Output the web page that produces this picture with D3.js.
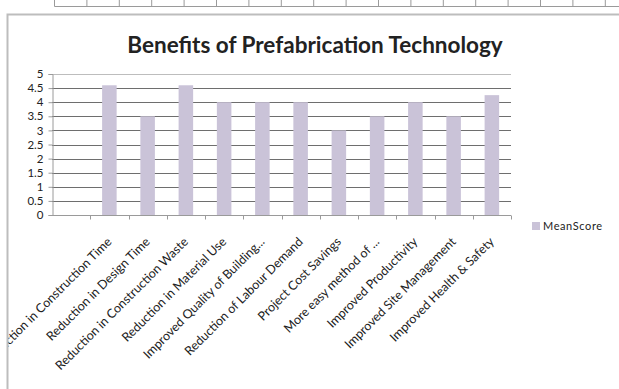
<!DOCTYPE html>
<html>
<head>
<meta charset="utf-8">
<script src="https://cdn.jsdelivr.net/npm/d3@7"></script>
<style>
  body { margin: 0; background: #fff; }
  svg { display: block; }
  text { font-family: Lato, "Open Sans", sans-serif; fill: #222; }
</style>
</head>
<body>
<svg></svg>
<script>
const categories = ['', 'Reduction in Construction Time', 'Reduction in Design Time',
  'Reduction in Construction Waste', 'Reduction in Material Use', 'Improved Quality of Building...',
  'Reduction of Labour Demand', 'Project Cost Savings', 'More easy method of ...',
  'Improved Productivity', 'Improved Site Management', 'Improved Health & Safety'];
const meanScore = [null, 4.6, 3.5, 4.6, 4.0, 4.0, 4.0, 3.0, 3.5, 4.0, 3.5, 4.25];
const yTicks = [0, 0.5, 1, 1.5, 2, 2.5, 3, 3.5, 4, 4.5, 5];
const seriesName = 'MeanScore';

const width = 619, height = 389;
const margin = { top: 74, left: 52, right: 108, bottom: 174 };

const svg = d3.select('svg')
  .attr('width', width)
  .attr('height', height);

// chart area clip (labels run off past the frame on the left)
svg.append('clipPath')
  .attr('id', 'chart-clip')
  .append('rect')
    .attr('x', 8.5).attr('y', 15)
    .attr('width', width).attr('height', height);

// spreadsheet cells peeking above the chart
const cellX = d3.range(0, 18).map(i => 54.5 + i * 32.4);
svg.append('line')
  .attr('x1', 54.5).attr('x2', width).attr('y1', 6.5).attr('y2', 6.5)
  .attr('stroke', '#9a9a9a');
svg.selectAll('.cell')
  .data(cellX)
  .enter().append('line')
    .attr('x1', d => d).attr('x2', d => d)
    .attr('y1', 0).attr('y2', 6.5)
    .attr('stroke', '#9a9a9a');

// chart frame
svg.append('path')
  .attr('d', 'M7.5,' + height + 'V14.5H' + width)
  .attr('fill', 'none')
  .attr('stroke', '#bdbdbd')
  .attr('stroke-width', 2);

const x = d3.scaleBand()
  .domain(categories.map((d, i) => i))
  .range([margin.left, width - margin.right])
  .paddingInner(0.62)
  .paddingOuter(0.31);

const y = d3.scaleLinear()
  .domain([0, 5])
  .range([height - margin.bottom, margin.top]);

// gridlines
svg.append('g')
  .selectAll('line')
  .data(yTicks.slice(1))
  .enter().append('line')
    .attr('x1', margin.left).attr('x2', width - margin.right)
    .attr('y1', d => Math.round(y(d)) + 0.5).attr('y2', d => Math.round(y(d)) + 0.5)
    .attr('stroke', d => d === 5 ? '#bdbdbd' : '#6e6e6e');

// bars
svg.append('g')
  .selectAll('rect')
  .data(meanScore.map((v, i) => ({ v, i })).filter(d => d.v != null))
  .enter().append('rect')
    .attr('x', d => x(d.i))
    .attr('width', x.bandwidth())
    .attr('y', d => y(d.v))
    .attr('height', d => y(0) - y(d.v))
    .attr('fill', '#cac3d8');

// y axis
const yAxis = svg.append('g')
  .attr('transform', 'translate(' + (margin.left + 0.5) + ',0)')
  .call(d3.axisLeft(y).tickValues(yTicks).tickSize(4).tickPadding(5).tickFormat(d3.format('')));
yAxis.select('.domain').attr('stroke', '#9a9a9a');
yAxis.selectAll('.tick line').attr('stroke', '#9a9a9a');
yAxis.selectAll('.tick text').style('font-size', '11.5px').attr('fill', '#222');

// x axis with ticks at category boundaries
const step = x.step();
const xBase = Math.round(y(0)) + 0.5;
svg.append('line')
  .attr('x1', margin.left).attr('x2', width - margin.right)
  .attr('y1', xBase).attr('y2', xBase)
  .attr('stroke', '#9a9a9a');
svg.append('g')
  .selectAll('line')
  .data(d3.range(1, categories.length + 1))
  .enter().append('line')
    .attr('x1', d => Math.round(margin.left + d * step) + 0.5)
    .attr('x2', d => Math.round(margin.left + d * step) + 0.5)
    .attr('y1', xBase).attr('y2', xBase + 4)
    .attr('stroke', '#9a9a9a');

svg.append('g')
  .attr('clip-path', 'url(#chart-clip)')
  .selectAll('text')
  .data(categories)
  .enter().append('text')
    .attr('transform', (d, i) => 'translate(' + (x(i) + x.bandwidth() / 2 + 3) + ',' + (xBase + 27) + ') rotate(-45)')
    .attr('text-anchor', 'end')
    .style('font-size', '12.5px')
    .text(d => d);

// title
svg.append('text')
  .attr('x', 315)
  .attr('y', 53)
  .attr('text-anchor', 'middle')
  .style('font-size', '22.5px')
  .style('font-weight', 'bold')
  .attr('fill', '#111')
  .text('Benefits of Prefabrication Technology');

// legend
const legend = svg.append('g').attr('transform', 'translate(532,222)');
legend.append('rect')
  .attr('width', 8).attr('height', 8)
  .attr('fill', '#cac3d8');
legend.append('text')
  .attr('x', 11).attr('y', 8)
  .style('font-size', '11px')
  .style('letter-spacing', '0.6px')
  .attr('fill', '#333')
  .text(seriesName);
</script>
</body>
</html>
